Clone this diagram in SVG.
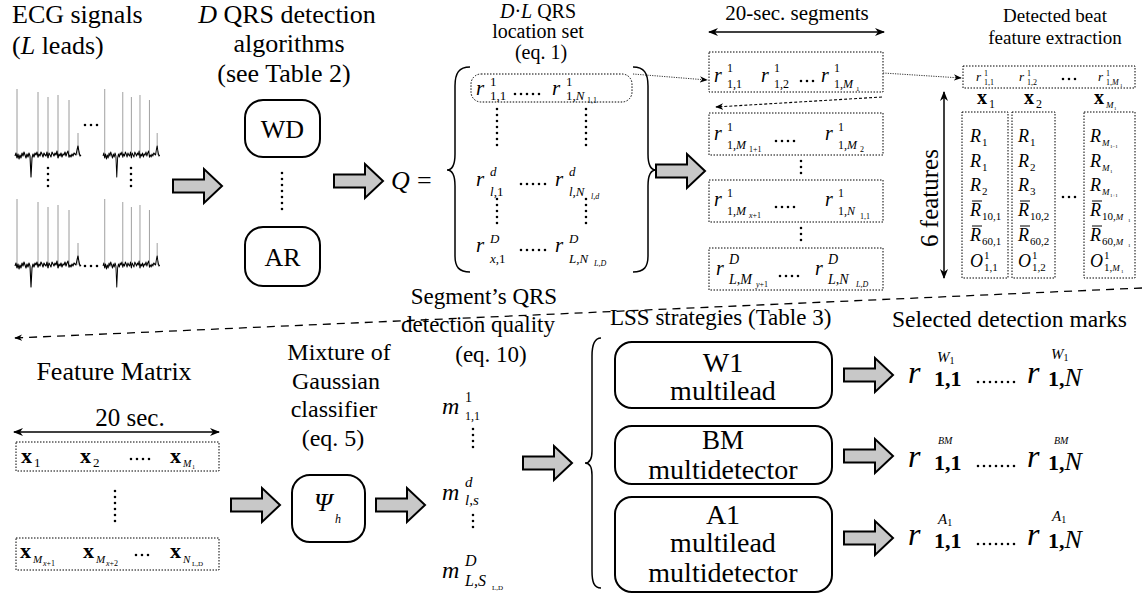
<svg xmlns="http://www.w3.org/2000/svg" xmlns:xlink="http://www.w3.org/1999/xlink" width="1142" height="596" viewBox="0 0 1142 596">
<style>
.t{font-family:"Liberation Serif","Times New Roman",serif;fill:#000}
.i{font-style:italic}
.b{font-weight:bold}
.c{text-anchor:middle}
.halo{stroke:#fff;stroke-width:8;paint-order:stroke;stroke-linejoin:round}
.rb{fill:#fff;stroke:#000;stroke-width:2}
.dbox{fill:none;stroke:#000;stroke-width:1;stroke-dasharray:1.5 1.5}
.ell{stroke:#000;stroke-width:2.6;stroke-linecap:round;stroke-dasharray:0 6;fill:none}
.blk{fill:#c8c8c8;stroke:#000;stroke-width:2}
.ln{stroke:#000;stroke-width:1.5;fill:none}
.spk{stroke:#9a9a9a;stroke-width:1;fill:none}
.nz{stroke:#000;stroke-width:1.1;fill:none;stroke-linejoin:round}
.bar{stroke:#000;stroke-width:1}
</style>
<defs>
<marker id="ah" viewBox="0 0 10 10" refX="9" refY="5" markerWidth="10" markerHeight="10" markerUnits="userSpaceOnUse" orient="auto-start-reverse"><path d="M0,1 L10,5 L0,9 L3,5 Z" fill="#000"/></marker>
<marker id="sh" viewBox="0 0 10 10" refX="9" refY="5" markerWidth="8" markerHeight="8" markerUnits="userSpaceOnUse" orient="auto"><path d="M0,1 L10,5 L0,9 L3,5 Z" fill="#000"/></marker>
<path id="barrow" class="blk" d="M0,-6.5 H31 V-17 L49,0 L31,17 V6.5 H0 Z"/>
<g id="ecg">
<path class="spk" d="M2,-66V3M23,-63V3M33,-58V3M43,-60V3M54,-55V3M63,-22V0"/>
<polyline class="nz" points="0,1 1,-2 2,3 3,-1 4,4 5,0 6,3 7,-2 8,1 9,-3 10,0 11,3 12,-1 13,2 14,-2 15,1 16,22 17,3 18,-1 19,2 20,-2 21,0 22,-3 23,2 24,-1 25,1 26,-3 27,-1 28,2 29,-2 30,0 31,1 32,-3 33,3 34,-2 35,0 36,2 37,-3 38,-1 39,1 40,-2 41,0 42,-4 43,3 44,-1 45,1 46,-2 47,2 48,-1 49,0 50,-3 51,1 52,-2 53,-4 54,2 55,0 56,2 57,-1 58,1 59,-2 60,-1 61,0 62,-5 63,-9 64,-3 65,1 66,0"/>
</g>
</defs>
<rect width="1142" height="596" fill="#fff"/>

<!-- ECG signals -->
<g id="ecg-signals">
<text class="t" x="12" y="23" font-size="26">ECG signals</text>
<text class="t" x="12" y="54" font-size="26">(<tspan class="i">L</tspan> leads)</text>
<use xlink:href="#ecg" transform="translate(15,155)"/>
<use xlink:href="#ecg" transform="translate(103,155) scale(0.86,1)"/>
<use xlink:href="#ecg" transform="translate(15,265)"/>
<use xlink:href="#ecg" transform="translate(103,265) scale(0.86,1)"/>
<line class="ell" x1="85" y1="125" x2="98" y2="125" stroke-dasharray="0 5.5"/>
<line class="ell" x1="85" y1="266" x2="98" y2="266" stroke-dasharray="0 5.5"/>
<line class="ell" x1="48" y1="168" x2="48" y2="191"/>
<line class="ell" x1="131" y1="168" x2="131" y2="191"/>
</g>

<!-- Detection algorithms -->
<g id="algorithms">
<text class="t c" x="287" y="23" font-size="26"><tspan class="i">D</tspan> QRS detection</text>
<text class="t c" x="289" y="52" font-size="26">algorithms</text>
<text class="t c" x="284" y="82" font-size="26">(see Table 2)</text>
</g>
<g id="node-wd">
<rect class="rb" x="245" y="100" width="75" height="57" rx="18"/>
<text class="t c" x="282.5" y="138" font-size="26">WD</text>
</g>
<line class="ell" x1="282" y1="173" x2="282" y2="210"/>
<g id="node-ar">
<rect class="rb" x="245" y="227" width="75" height="59" rx="18"/>
<text class="t c" x="282.5" y="266" font-size="26">AR</text>
</g>

<!-- Q matrix -->
<g id="q-set">
<text class="t c" x="538" y="18" font-size="20"><tspan class="i">D</tspan>·<tspan class="i">L</tspan> QRS</text>
<text class="t c" x="538" y="38" font-size="20">location set</text>
<text class="t c" x="541" y="59" font-size="20">(eq. 1)</text>
<text class="t i" x="391" y="189" font-size="26">Q</text>
<text class="t" x="417" y="189" font-size="26">=</text>
<path class="ln" stroke-width="2.6" d="M470,67 C459,67 455,73 455,86 L455,154 C455,165 452,170 447,170 C452,170 455,175 455,186 L455,256 C455,267 459,272 470,272"/>
<path class="ln" stroke-width="2.6" d="M633,67 C644,67 648,73 648,86 L648,154 C648,165 651,170 656,170 C651,170 648,175 648,186 L648,256 C648,267 644,272 633,272"/>
<rect class="dbox" x="471" y="74" width="161" height="28" rx="10"/>
<text class="t i" x="476" y="95" font-size="21">r</text>
<text class="t" x="490" y="86" font-size="13">1</text>
<text class="t" x="490" y="100" font-size="13">1,1</text>
<line class="ell" x1="515" y1="94" x2="540" y2="94" stroke-width="2.2"/>
<text class="t i" x="552" y="95" font-size="21">r</text>
<text class="t" x="566" y="86" font-size="13">1</text>
<text class="t" x="566" y="100" font-size="13">1,<tspan class="i">N</tspan></text>
<text class="t" x="587" y="103" font-size="8">1,1</text>
<line class="ell" x1="497" y1="109" x2="497" y2="146"/>
<line class="ell" x1="586" y1="109" x2="586" y2="146"/>
<text class="t i" x="476" y="186" font-size="21">r</text>
<text class="t i" x="490" y="176" font-size="13">d</text>
<text class="t" x="490" y="196" font-size="13"><tspan class="i">l</tspan>,1</text>
<line class="ell" x1="521" y1="184" x2="547" y2="184" stroke-width="2.2"/>
<text class="t i" x="555" y="186" font-size="21">r</text>
<text class="t i" x="569" y="176" font-size="13">d</text>
<text class="t i" x="569" y="196" font-size="13">l,N</text>
<text class="t i" x="591" y="199" font-size="8">l,d</text>
<line class="ell" x1="497" y1="199" x2="497" y2="224"/>
<line class="ell" x1="586" y1="199" x2="586" y2="224"/>
<text class="t i" x="476" y="252" font-size="21">r</text>
<text class="t i" x="490" y="243" font-size="13">D</text>
<text class="t" x="490" y="263" font-size="13"><tspan class="i">x</tspan>,1</text>
<line class="ell" x1="521" y1="250" x2="547" y2="250" stroke-width="2.2"/>
<text class="t i" x="555" y="252" font-size="21">r</text>
<text class="t i" x="569" y="243" font-size="13">D</text>
<text class="t i" x="569" y="263" font-size="13">L,N</text>
<text class="t i" x="594" y="266" font-size="8">L,D</text>
</g>

<!-- 20-sec segments -->
<g id="segments">
<text class="t c" x="797" y="20" font-size="21">20-sec. segments</text>
<rect class="dbox" x="709" y="52" width="174" height="40"/>
<text class="t i" x="714" y="82" font-size="20">r</text>
<text class="t" x="727" y="72" font-size="12">1</text>
<text class="t" x="727" y="88" font-size="12">1,1</text>
<text class="t i" x="761" y="82" font-size="20">r</text>
<text class="t" x="774" y="72" font-size="12">1</text>
<text class="t" x="774" y="88" font-size="12">1,2</text>
<line class="ell" x1="801" y1="81" x2="814" y2="81" stroke-width="2.2" stroke-dasharray="0 6.5"/>
<text class="t i" x="821" y="82" font-size="20">r</text>
<text class="t" x="834" y="72" font-size="12">1</text>
<text class="t" x="834" y="88" font-size="12">1,<tspan class="i">M</tspan></text>
<text class="t" x="856" y="91" font-size="7">1</text>

<rect class="dbox" x="709" y="113" width="174" height="42"/>
<text class="t i" x="714" y="140" font-size="20">r</text>
<text class="t" x="727" y="131" font-size="12">1</text>
<text class="t" x="727" y="149" font-size="12">1,<tspan class="i">M</tspan></text>
<text class="t" x="749" y="152" font-size="8">1+1</text>
<line class="ell" x1="776" y1="141" x2="797" y2="141" stroke-width="2.2" stroke-dasharray="0 6.5"/>
<text class="t i" x="825" y="140" font-size="20">r</text>
<text class="t" x="838" y="131" font-size="12">1</text>
<text class="t" x="838" y="149" font-size="12">1,<tspan class="i">M</tspan></text>
<text class="t" x="860" y="152" font-size="8">2</text>

<line class="ell" x1="801" y1="161" x2="801" y2="175" stroke-dasharray="0 5.5"/>

<rect class="dbox" x="709" y="180" width="174" height="42"/>
<text class="t i" x="714" y="206" font-size="20">r</text>
<text class="t" x="727" y="197" font-size="12">1</text>
<text class="t" x="727" y="215" font-size="12">1,<tspan class="i">M</tspan></text>
<text class="t" x="749" y="218" font-size="8"><tspan class="i">x</tspan>+1</text>
<line class="ell" x1="776" y1="207" x2="797" y2="207" stroke-width="2.2" stroke-dasharray="0 6.5"/>
<text class="t i" x="825" y="206" font-size="20">r</text>
<text class="t" x="838" y="197" font-size="12">1</text>
<text class="t" x="838" y="215" font-size="12">1,<tspan class="i">N</tspan></text>
<text class="t" x="860" y="219" font-size="8">1,1</text>

<line class="ell" x1="801" y1="228" x2="801" y2="244" stroke-dasharray="0 5.5"/>

<rect class="dbox" x="709" y="248" width="174" height="42"/>
<text class="t i" x="716" y="275" font-size="20">r</text>
<text class="t i" x="729" y="264" font-size="14">D</text>
<text class="t i" x="729" y="284" font-size="14">L,M</text>
<text class="t" x="756" y="287" font-size="8"><tspan class="i">y</tspan>+1</text>
<line class="ell" x1="780" y1="276" x2="800" y2="276" stroke-width="2.2" stroke-dasharray="0 6.5"/>
<text class="t i" x="815" y="275" font-size="20">r</text>
<text class="t i" x="828" y="264" font-size="14">D</text>
<text class="t i" x="828" y="284" font-size="14">L,N</text>
<text class="t i" x="856" y="287" font-size="8">L,D</text>
</g>

<!-- Feature extraction -->
<g id="feature-extraction">
<text class="t c" x="1055" y="22" font-size="19">Detected beat</text>
<text class="t c" x="1055" y="44" font-size="19">feature extraction</text>
<rect class="dbox" x="963" y="66" width="172" height="22"/>
<text class="t i" x="976" y="81" font-size="13">r</text>
<text class="t" x="984" y="76" font-size="8">1</text>
<text class="t" x="984" y="85" font-size="8">1,1</text>
<text class="t i" x="1019" y="81" font-size="13">r</text>
<text class="t" x="1027" y="76" font-size="8">1</text>
<text class="t" x="1027" y="85" font-size="8">1,2</text>
<line class="ell" x1="1063" y1="79" x2="1076" y2="79" stroke-width="2.4" stroke-dasharray="0 6.5"/>
<text class="t i" x="1098" y="81" font-size="13">r</text>
<text class="t" x="1106" y="76" font-size="8">1</text>
<text class="t" x="1106" y="85" font-size="8">1,<tspan class="i">M</tspan></text>
<text class="t" x="1120" y="87" font-size="5">1</text>

<text class="t b" x="977" y="104" font-size="20">x</text>
<text class="t" x="989" y="108" font-size="12">1</text>
<text class="t b" x="1024" y="104" font-size="20">x</text>
<text class="t" x="1036" y="108" font-size="12">2</text>
<text class="t b" x="1094" y="104" font-size="20">x</text>
<text class="t i" x="1106" y="108" font-size="9">M</text>
<text class="t" x="1114" y="110" font-size="5">1</text>

<line class="ln" x1="944" y1="92" x2="944" y2="278" marker-start="url(#ah)" marker-end="url(#ah)"/>
<text class="t c" x="938" y="198" font-size="25" transform="rotate(-90 938 198)">6 features</text>

<rect class="dbox" x="962" y="112" width="46" height="166"/>
<rect class="dbox" x="1012" y="112" width="43" height="166"/>
<rect class="dbox" x="1084" y="112" width="51" height="166"/>

<g font-size="18">
<text class="t i" x="970" y="142">R</text><text class="t" x="982" y="146" font-size="11">1</text>
<text class="t i" x="970" y="167">R</text><text class="t" x="982" y="171" font-size="11">1</text>
<text class="t i" x="970" y="191">R</text><text class="t" x="982" y="195" font-size="11">2</text>
<text class="t i" x="970" y="216">R</text><line class="bar" x1="972" y1="201" x2="982" y2="201"/><text class="t" x="982" y="220" font-size="11">10,1</text>
<text class="t i" x="970" y="241">R</text><line class="bar" x1="972" y1="226" x2="982" y2="226"/><text class="t" x="982" y="245" font-size="11">60,1</text>
<text class="t i" x="970" y="267">O</text><text class="t" x="984" y="259" font-size="11">1</text><text class="t" x="984" y="271" font-size="11">1,1</text>

<text class="t i" x="1018" y="142">R</text><text class="t" x="1030" y="146" font-size="11">1</text>
<text class="t i" x="1018" y="167">R</text><text class="t" x="1030" y="171" font-size="11">2</text>
<text class="t i" x="1018" y="191">R</text><text class="t" x="1030" y="195" font-size="11">3</text>
<text class="t i" x="1018" y="216">R</text><line class="bar" x1="1020" y1="201" x2="1030" y2="201"/><text class="t" x="1030" y="220" font-size="11">10,2</text>
<text class="t i" x="1018" y="241">R</text><line class="bar" x1="1020" y1="226" x2="1030" y2="226"/><text class="t" x="1030" y="245" font-size="11">60,2</text>
<text class="t i" x="1018" y="267">O</text><text class="t" x="1032" y="259" font-size="11">1</text><text class="t" x="1032" y="271" font-size="11">1,2</text>

<text class="t i" x="1090" y="142">R</text><text class="t i" x="1102" y="146" font-size="9">M</text><text class="t" x="1110" y="148" font-size="5">1−1</text>
<text class="t i" x="1090" y="167">R</text><text class="t i" x="1102" y="171" font-size="9">M</text><text class="t" x="1110" y="173" font-size="5">1</text>
<text class="t i" x="1090" y="191">R</text><text class="t i" x="1102" y="195" font-size="9">M</text><text class="t" x="1110" y="197" font-size="5">1+1</text>
<text class="t i" x="1090" y="216">R</text><line class="bar" x1="1092" y1="201" x2="1102" y2="201"/><text class="t" x="1102" y="220" font-size="11">10,<tspan class="i" font-size="9">M</tspan></text><text class="t" x="1128" y="222" font-size="5">1</text>
<text class="t i" x="1090" y="241">R</text><line class="bar" x1="1092" y1="226" x2="1102" y2="226"/><text class="t" x="1102" y="245" font-size="11">60,<tspan class="i" font-size="9">M</tspan></text><text class="t" x="1128" y="247" font-size="5">1</text>
<text class="t i" x="1090" y="267">O</text><text class="t" x="1104" y="259" font-size="11">1</text><text class="t" x="1104" y="271" font-size="11">1,<tspan class="i" font-size="9">M</tspan></text><text class="t" x="1121" y="273" font-size="5">1</text>
</g>
<line class="ell" x1="1063" y1="197" x2="1080" y2="197" stroke-width="2.4" stroke-dasharray="0 6.5"/>
</g>

<!-- Feature matrix -->
<g id="feature-matrix">
<text class="t c" x="114" y="380" font-size="26">Feature Matrix</text>
<text class="t c" x="130" y="426" font-size="25">20 sec.</text>
<line class="ln" x1="14" y1="432" x2="219" y2="432" marker-start="url(#ah)" marker-end="url(#ah)"/>
<rect class="dbox" x="16" y="442" width="203" height="29"/>
<text class="t b" x="21" y="463" font-size="22">x</text><text class="t" x="34" y="467" font-size="13">1</text>
<text class="t b" x="80" y="463" font-size="22">x</text><text class="t" x="93" y="467" font-size="13">2</text>
<line class="ell" x1="131" y1="459" x2="150" y2="459" stroke-width="2.4" stroke-dasharray="0 6.5"/>
<text class="t b" x="170" y="463" font-size="22">x</text><text class="t i" x="183" y="467" font-size="10">M</text><text class="t" x="192" y="469" font-size="6">1</text>
<line class="ell" x1="115" y1="491" x2="115" y2="527"/>
<rect class="dbox" x="16" y="538" width="203" height="32"/>
<text class="t b" x="20" y="558" font-size="22">x</text><text class="t i" x="33" y="563" font-size="11">M</text><text class="t" x="43" y="566" font-size="8"><tspan class="i">x</tspan>+1</text>
<text class="t b" x="83" y="558" font-size="22">x</text><text class="t i" x="96" y="563" font-size="11">M</text><text class="t" x="106" y="566" font-size="8"><tspan class="i">x</tspan>+2</text>
<line class="ell" x1="136" y1="555" x2="152" y2="555" stroke-width="2.4" stroke-dasharray="0 6.5"/>
<text class="t b" x="170" y="558" font-size="22">x</text><text class="t i" x="183" y="563" font-size="11">N</text><text class="t" x="192" y="566" font-size="7">L,D</text>
</g>

<!-- Mixture of Gaussian classifier -->
<g id="mog-classifier">
<text class="t c" x="339" y="360" font-size="24">Mixture of</text>
<text class="t c" x="336" y="389" font-size="24">Gaussian</text>
<text class="t c" x="334" y="417" font-size="24">classifier</text>
<text class="t c" x="333" y="446" font-size="24">(eq. 5)</text>
</g>
<g id="node-psi">
<rect class="rb" x="292" y="475" width="73" height="67" rx="18"/>
<text class="t i" x="314" y="511" font-size="26">Ψ</text>
<text class="t i" x="335" y="523" font-size="12">h</text>
</g>

<!-- Segment quality -->
<g id="segment-quality">
<text class="t c halo" x="484" y="304" font-size="23">Segment’s QRS</text>
<text class="t c halo" x="478" y="332" font-size="23">detection quality</text>
<text class="t c" x="491" y="362" font-size="23">(eq. 10)</text>
<text class="t i" x="442" y="414" font-size="24">m</text>
<text class="t" x="465" y="402" font-size="14">1</text>
<text class="t" x="465" y="420" font-size="12">1,1</text>
<line class="ell" x1="473" y1="429" x2="473" y2="448"/>
<text class="t i" x="442" y="500" font-size="24">m</text>
<text class="t i" x="465" y="487" font-size="15">d</text>
<text class="t i" x="465" y="505" font-size="15">l,s</text>
<line class="ell" x1="473" y1="515" x2="473" y2="533"/>
<text class="t i" x="442" y="578" font-size="24">m</text>
<text class="t i" x="465" y="566" font-size="16">D</text>
<text class="t i" x="465" y="586" font-size="16">L,S</text>
<text class="t" x="492" y="590" font-size="7">L,D</text>
</g>

<!-- LSS strategies -->
<g id="lss">
<text class="t halo" x="610" y="325" font-size="23">LSS strategies (Table 3)</text>
<path class="ln" stroke-width="2.4" d="M601,338 C594,338 592,345 592,356 L592,451 C592,459 590,463 585,463 C590,463 592,467 592,475 L592,571 C592,582 594,588 601,588"/>
</g>
<g id="node-w1">
<rect class="rb" x="615" y="342" width="217" height="66" rx="17"/>
<text class="t c" x="723" y="372" font-size="28">W1</text>
<text class="t c" x="723" y="400" font-size="28">multilead</text>
</g>
<g id="node-bm">
<rect class="rb" x="615" y="426" width="217" height="58" rx="17"/>
<text class="t c" x="723" y="449" font-size="27">BM</text>
<text class="t c" x="723" y="479" font-size="28">multidetector</text>
</g>
<g id="node-a1">
<rect class="rb" x="615" y="497" width="217" height="95" rx="17"/>
<text class="t c" x="723" y="524" font-size="28">A1</text>
<text class="t c" x="723" y="552" font-size="28">multilead</text>
<text class="t c" x="723" y="582" font-size="28">multidetector</text>
</g>

<!-- Selected detection marks -->
<g id="selected-marks">
<text class="t" x="892" y="327" font-size="23.5">Selected detection marks</text>
<text class="t i" x="908" y="383" font-size="32">r</text>
<text class="t i" x="937" y="362" font-size="15">W<tspan font-style="normal" font-size="10" dy="2">1</tspan></text>
<text class="t b" x="934" y="386" font-size="22">1,1</text>
<line class="ell" x1="978" y1="382" x2="1016" y2="382" stroke-width="3" stroke-dasharray="0 9.5"/>
<text class="t i" x="1027" y="383" font-size="32">r</text>
<text class="t i" x="1051" y="359" font-size="15">W<tspan font-style="normal" font-size="10" dy="2">1</tspan></text>
<text class="t b" x="1048" y="386" font-size="22">1,<tspan class="i" font-weight="normal" font-size="26">N</tspan></text>

<text class="t i" x="908" y="467" font-size="32">r</text>
<text class="t i" x="938" y="444" font-size="10">BM</text>
<text class="t b" x="934" y="470" font-size="22">1,1</text>
<line class="ell" x1="978" y1="466" x2="1016" y2="466" stroke-width="3" stroke-dasharray="0 9.5"/>
<text class="t i" x="1027" y="467" font-size="32">r</text>
<text class="t i" x="1054" y="444" font-size="10">BM</text>
<text class="t b" x="1048" y="470" font-size="22">1,<tspan class="i" font-weight="normal" font-size="26">N</tspan></text>

<text class="t i" x="908" y="545" font-size="32">r</text>
<text class="t i" x="938" y="524" font-size="15">A<tspan font-style="normal" font-size="10" dy="2">1</tspan></text>
<text class="t b" x="934" y="548" font-size="22">1,1</text>
<line class="ell" x1="978" y1="544" x2="1016" y2="544" stroke-width="3" stroke-dasharray="0 9.5"/>
<text class="t i" x="1027" y="545" font-size="32">r</text>
<text class="t i" x="1052" y="521" font-size="15">A<tspan font-style="normal" font-size="10" dy="2">1</tspan></text>
<text class="t b" x="1048" y="548" font-size="22">1,<tspan class="i" font-weight="normal" font-size="26">N</tspan></text>
</g>

<!-- Connectors -->
<g id="connectors">
<use xlink:href="#barrow" x="173" y="186"/>
<use xlink:href="#barrow" x="334" y="181"/>
<use xlink:href="#barrow" x="656" y="171"/>
<use xlink:href="#barrow" x="231" y="505"/>
<use xlink:href="#barrow" x="376" y="505"/>
<use xlink:href="#barrow" x="523" y="463"/>
<use xlink:href="#barrow" x="844" y="375"/>
<use xlink:href="#barrow" x="844" y="456"/>
<use xlink:href="#barrow" x="844" y="538"/>
<line class="ln" x1="709" y1="32" x2="884" y2="32" marker-start="url(#ah)" marker-end="url(#ah)"/>
<line x1="633" y1="74" x2="707" y2="80" stroke="#333" stroke-width="1" stroke-dasharray="1.2 1.2" marker-end="url(#sh)"/>
<line x1="883" y1="73" x2="961" y2="78" stroke="#333" stroke-width="1" stroke-dasharray="1.2 1.2" marker-end="url(#sh)"/>
<line x1="882" y1="97" x2="716" y2="107" stroke="#000" stroke-width="1.1" stroke-dasharray="3 2" marker-end="url(#sh)"/>
<line x1="1142" y1="288" x2="15" y2="338" stroke="#000" stroke-width="1.3" stroke-dasharray="8 6" marker-end="url(#sh)"/>
</g>
</svg>
